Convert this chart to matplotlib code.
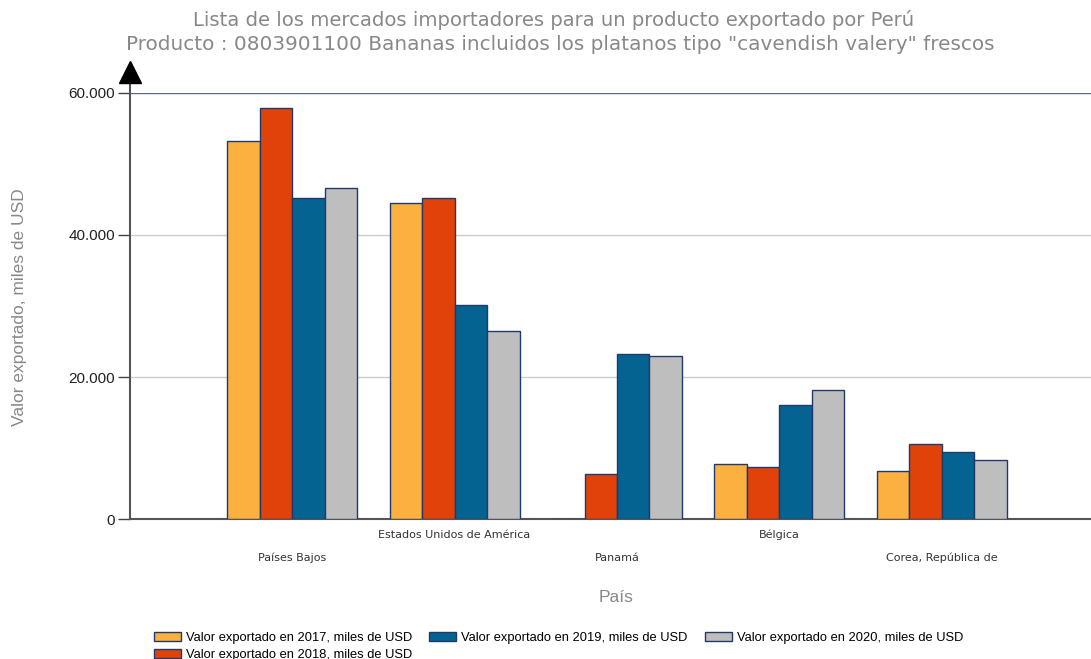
import matplotlib
matplotlib.use("Agg")
import matplotlib.pyplot as plt
import numpy as np

countries = ["Países Bajos", "Estados Unidos de América", "Panamá", "Bélgica", "Corea, República de"]
series_labels = ["Valor exportado en 2017, miles de USD",
                 "Valor exportado en 2018, miles de USD",
                 "Valor exportado en 2019, miles de USD",
                 "Valor exportado en 2020, miles de USD"]
v2017 = [53200, 44500, 0, 7800, 6800]
v2018 = [57900, 45200, 6300, 7300, 10600]
v2019 = [45200, 30100, 23200, 16100, 9400]
v2020 = [46600, 26500, 22900, 18200, 8300]
colors = ["#FBB040", "#E0420A", "#056391", "#BEBEBE"]
yticks = [0, 20000, 40000, 60000]
ytick_labels = ["0", "20.000", "40.000", "60.000"]

fig = plt.figure(figsize=(10.91, 6.59), dpi=100)
ax = fig.add_axes([0.1192, 0.2124, 0.8808, 0.6465])

x = np.arange(len(countries))
w = 0.2
all_vals = [v2017, v2018, v2019, v2020]
handles = []
for i, (vals, c, lab) in enumerate(zip(all_vals, colors, series_labels)):
    b = ax.bar(x + (i - 1.5) * w, vals, width=w, color=c, edgecolor="#1F3A6B",
               linewidth=1.0, label=lab, zorder=3)
    handles.append(b)

ax.set_xlim(-1.0, 4.92)
ax.set_ylim(0, 60000)
ax.set_yticks(yticks)
ax.set_yticklabels(ytick_labels, fontfamily="Liberation Sans", fontsize=11, color="#222222")
ax.tick_params(axis="y", length=9, width=1, color="#444444", pad=2)
ax.set_xticks([])
for yv in yticks[1:3]:
    ax.axhline(yv, color="#CCCCCC", linewidth=1, zorder=1)
ax.axhline(60000, color="#5A6A80", linewidth=1, zorder=1)

for s in ["top", "right"]:
    ax.spines[s].set_visible(False)
ax.spines["left"].set_visible(False)
ax.spines["bottom"].set_color("#555555")
ax.spines["bottom"].set_linewidth(1.5)
# left axis with arrow
ax.plot([-1.0, -1.0], [0, 61500], color="#555555", linewidth=1.5, clip_on=False, zorder=4)
ax.plot([-1.0], [62900], marker="^", markersize=16, color="black", clip_on=False, zorder=5)

# staggered country labels
for i, name in enumerate(countries):
    yoff = 558 if i % 2 == 0 else 535
    fig.text((292 + i * 162.5) / 1091, 1 - yoff / 659, name, ha="center", va="center",
             fontsize=8, color="#333333", fontfamily="DejaVu Sans")

fig.text(616 / 1091, 1 - 597 / 659, "País", ha="center", va="center", fontsize=12.5,
         color="#888888", fontfamily="Liberation Sans")
fig.text(20 / 1091, 1 - 307 / 659, "Valor exportado, miles de USD", rotation=90,
         ha="center", va="center", fontsize=12.5, color="#888888", fontfamily="Liberation Sans")

fig.text(553.5 / 1091, 1 - 20 / 659, "Lista de los mercados importadores para un producto exportado por Perú",
         ha="center", va="center", fontsize=14.1, color="#888888", fontfamily="DejaVu Sans")
fig.text(560 / 1091, 1 - 45 / 659, 'Producto : 0803901100 Bananas incluidos los platanos tipo "cavendish valery" frescos',
         ha="center", va="center", fontsize=14.4, color="#888888", fontfamily="DejaVu Sans")

leg = fig.legend(handles=handles, labels=series_labels, ncol=3, loc="upper left",
                 bbox_to_anchor=(154 / 1091, 1 - 632 / 659), frameon=False,
                 prop={"family": "Liberation Sans", "size": 9.3}, handlelength=2.1,
                 handleheight=0.67, handletextpad=0.39, columnspacing=1.3,
                 labelspacing=0.38, borderaxespad=0, borderpad=0)

fig.savefig("out.png", dpi=100)
